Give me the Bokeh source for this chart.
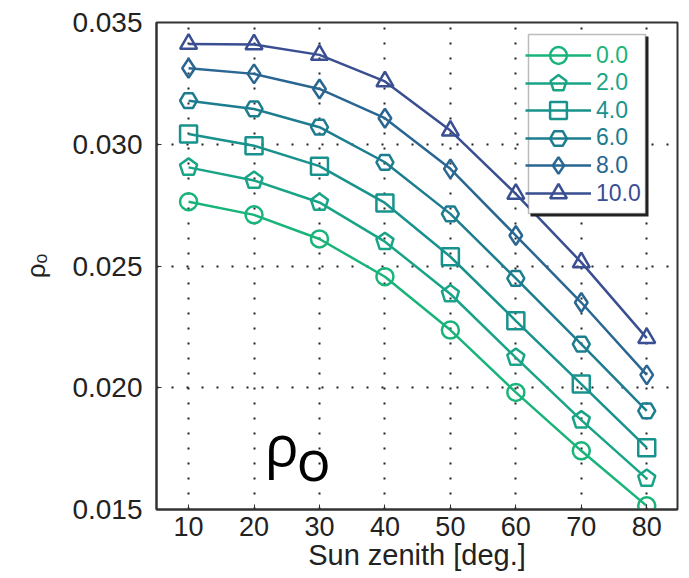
import math
from bokeh.plotting import figure
from bokeh.models import (Range1d, FixedTicker, NumeralTickFormatter, Legend,
                          LegendItem, BoxAnnotation, Label, ColumnDataSource)
from bokeh.embed import file_html
from bokeh.resources import INLINE

# ---- data ----
zenith = [10, 20, 30, 40, 50, 60, 70, 80]
rho_00 = [0.02764, 0.02710, 0.02611, 0.02456, 0.02237, 0.01981, 0.01741, 0.01515]
rho_20 = [0.02905, 0.02851, 0.02761, 0.02600, 0.02385, 0.02124, 0.01867, 0.01627]
rho_40 = [0.03042, 0.02994, 0.02910, 0.02759, 0.02538, 0.02275, 0.02015, 0.01754]
rho_60 = [0.03179, 0.03145, 0.03070, 0.02926, 0.02714, 0.02449, 0.02179, 0.01905]
rho_80 = [0.03312, 0.03289, 0.03227, 0.03107, 0.02899, 0.02625, 0.02350, 0.02053]
rho_100 = [0.03412, 0.03410, 0.03367, 0.03258, 0.03056, 0.02796, 0.02515, 0.02204]
series_labels = ["0.0", "2.0", "4.0", "6.0", "8.0", "10.0"]
x_ticks = [10, 20, 30, 40, 50, 60, 70, 80]
y_ticks = [0.015, 0.020, 0.025, 0.030, 0.035]

series = [rho_00, rho_20, rho_40, rho_60, rho_80, rho_100]
colors = ["#18b47a", "#1aa487", "#18928c", "#1c7d8f", "#296692", "#3a4e92"]
markers = ["circle", "pentagon", "square", "hex", "diamond", "triangle"]
msizes = [17, 17, 17, 17, 19, 17]

FONT = "Liberation Sans"

p = figure(width=684, height=578, output_backend="svg", toolbar_location=None,
           x_range=Range1d(5.1, 84.7), y_range=Range1d(0.015, 0.035),
           min_border_left=156, min_border_top=22, min_border_right=7,
           min_border_bottom=69)

p.outline_line_color = "#333333"
p.outline_line_width = 2
p.background_fill_color = "white"

p.xaxis.ticker = FixedTicker(ticks=x_ticks)
p.yaxis.ticker = FixedTicker(ticks=y_ticks)
p.yaxis.formatter = NumeralTickFormatter(format="0.000")
for ax in (p.xaxis[0], p.yaxis[0]):
    ax.axis_line_color = "#333333"
    ax.axis_line_width = 2
    ax.major_tick_in = 5
    ax.major_tick_out = 0
    ax.minor_tick_line_color = None
    ax.major_tick_line_color = "#333333"
    ax.major_label_text_font = FONT
    ax.major_label_text_font_size = "27px"
    ax.major_label_text_color = "#222222"
    ax.axis_label_text_font = FONT
    ax.axis_label_text_font_style = "normal"
    ax.axis_label_text_color = "#222222"

p.yaxis.major_label_text_font_size = "28px"
p.xaxis.major_label_standoff = 7
p.yaxis.major_label_standoff = 14
p.xaxis.axis_label = "Sun zenith [deg.]"
p.xaxis.axis_label_text_font_size = "29px"
p.xaxis.axis_label_standoff = 0
p.yaxis.axis_label = "ρₒ"
p.yaxis.axis_label_text_font_size = "26px"
p.yaxis.axis_label_standoff = 18

for g in (p.xgrid[0], p.ygrid[0]):
    g.grid_line_color = "#222222"
    g.grid_line_width = 2
    g.grid_line_dash = "2 13"
p.xgrid.ticker = FixedTicker(ticks=x_ticks)
p.ygrid.ticker = FixedTicker(ticks=[0.020, 0.025, 0.030])

legend_items = []
for vals, col, mk, ms, lab in zip(series, colors, markers, msizes, series_labels):
    src = ColumnDataSource(dict(x=zenith, y=vals))
    rl = p.line("x", "y", source=src, line_color=col, line_width=2.5)
    if mk == "pentagon":
        try:
            rm = p.ngon(x="x", y="y", radius=9, radius_units="screen", n=5,
                        angle=0, source=src, fill_alpha=0,
                        line_color=col, line_width=2.5)
        except Exception:
            rm = p.scatter("x", "y", source=src, marker="inverted_triangle",
                           size=ms, fill_alpha=0, line_color=col, line_width=2.5)
    else:
        rm = p.scatter("x", "y", source=src, marker=mk, size=ms, fill_alpha=0,
                       line_color=col, line_width=2.5)
    legend_items.append((lab, col, [rl, rm]))

# legend frame (screen units relative to the plot frame)
shadow = BoxAnnotation(left=374, right=492, bottom=293, top=473,
                       left_units="screen", right_units="screen",
                       bottom_units="screen", top_units="screen",
                       fill_color="#222222", fill_alpha=1, line_alpha=0)
box = BoxAnnotation(left=372, right=489, bottom=296, top=475,
                    left_units="screen", right_units="screen",
                    bottom_units="screen", top_units="screen",
                    fill_color="white", fill_alpha=1,
                    line_color="#222222", line_width=1.5)
p.add_layout(shadow)
p.add_layout(box)

row_pitch = 27.6
first_center = 509 - 55  # from frame bottom
for i, (lab, col, rends) in enumerate(legend_items):
    yc = first_center - i * row_pitch
    leg = Legend(items=[LegendItem(label=lab, renderers=rends)],
                 location=(369, yc - 21),
                 border_line_alpha=0, background_fill_alpha=0,
                 padding=0, margin=0, spacing=0,
                 glyph_width=66, glyph_height=42, label_height=42,
                 label_standoff=5, label_text_font=FONT,
                 label_text_font_size="23px", label_text_color=col)
    p.add_layout(leg)

p.add_layout(Label(x=21.6, y=0.0177, text="ρ", text_font="Open Sans",
                   text_font_size="57px", text_color="black",
                   text_baseline="alphabetic"))
p.add_layout(Label(x=26.5, y=0.01708, text="o", text_font="Open Sans",
                   text_font_size="57px", text_color="black",
                   text_baseline="alphabetic"))

open("out.html", "w").write(file_html(p, INLINE))
